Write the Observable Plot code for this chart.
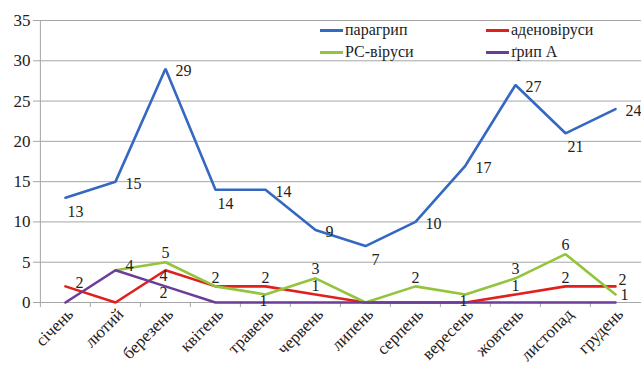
<!DOCTYPE html>
<html><head><meta charset="utf-8">
<script src="https://cdn.jsdelivr.net/npm/d3@7"></script>
<script src="https://cdn.jsdelivr.net/npm/@observablehq/plot@0.6"></script>
<style>
body{margin:0;background:#fff;}
#wrap{position:relative;width:641px;height:365px;font-family:"Liberation Serif","Times New Roman",Tinos,"Noto Serif","DejaVu Serif",serif;}
.leg{position:absolute;font-size:16px;color:#222;display:flex;align-items:center;white-space:nowrap;}
.leg span.sw{display:inline-block;width:23px;height:3px;margin-right:2px;}
svg text{font-family:"Liberation Serif","Times New Roman",Tinos,"Noto Serif","DejaVu Serif",serif;}
</style></head>
<body><div id="wrap"></div>
<script>
const months = ["січень","лютий","березень","квітень","травень","червень","липень","серпень","вересень","жовтень","листопад","грудень"];
const seriesNames = ["парагрип","аденовіруси","РС-віруси","ґрип А"];
const paraflu = [13,15,29,14,14,9,7,10,17,27,21,24];
const adeno   = [2,0,4,2,2,1,0,0,0,1,2,2];
const rsv     = [null,4,5,2,1,3,0,2,1,3,6,1];
const fluA    = [0,4,2,0,0,0,0,0,0,0,0,0];
const yTicks  = [0,5,10,15,20,25,30,35];
const colors  = ["#3568c0","#e0201c","#92c43c","#6b3d98"];

const values = [paraflu, adeno, rsv, fluA];
const rows = [];
values.forEach((arr, si) => arr.forEach((v, i) => {
  if (v !== null) rows.push({series: seriesNames[si], si, month: months[i], i, v,
    prev: i > 0 ? arr[i-1] : null, next: i < arr.length-1 ? arr[i+1] : null});
}));
const isMin = d => (d.prev === null || d.prev > d.v) && (d.next === null || d.next >= d.v);
const seen = new Set();
const labels = rows.filter(d => {
  if (d.v === 0) return false;
  if (d.si === 0) return true;
  const k = d.i + ":" + d.v;
  if (seen.has(k)) return false;
  seen.add(k); return true;
});
const small = labels.filter(d => d.si > 0);
const hasAbove = d => small.some(o => o.i === d.i && o.v === d.v + 1);
const placeSmall = d => {
  if (d.prev === null) return "start";
  if (d.next === null) return hasAbove(d) ? "endLow" : "end";
  if (d.prev > d.v && d.next > d.v) return "below";
  if (hasAbove(d)) return "below";
  if (d.prev - d.v >= 2 && d.next < d.v) return "below";
  return "above";
};
const paraRight = labels.filter(d => d.si === 0 && !isMin(d));
const paraBelow = labels.filter(d => d.si === 0 && isMin(d));
const sm = k => small.filter(d => placeSmall(d) === k);

const W = 641, H = 365, mL = 38, mR = 0;
const step = (W - mL - mR) / months.length;
const font = "Liberation Serif, Times New Roman, Tinos, Noto Serif, DejaVu Serif, serif";
const txt = {x: "month", y: "v", text: d => String(d.v), fontSize: 16, fill: "#222"};

const chart = Plot.plot({
  width: W, height: H,
  marginLeft: mL, marginRight: mR, marginTop: 20, marginBottom: 63,
  style: {fontFamily: font, fontSize: "16px", color: "#222", background: "#fff"},
  x: {type: "point", domain: months, padding: 0.5, label: null},
  y: {domain: [0, 35], label: null},
  marks: [
    Plot.gridY(yTicks, {stroke: "#a6a6a6", strokeOpacity: 1, strokeWidth: 1}),
    Plot.ruleX([months[0]], {dx: -step/2, stroke: "#a6a6a6"}),
    Plot.ruleX(months, {dx: -step/2, y1: 0, y2: -0.62, stroke: "#a6a6a6"}),
    Plot.axisY(yTicks, {tickSize: 5, tickPadding: 3, stroke: "#a6a6a6", fontSize: 17, fill: "#222"}),
    Plot.axisX(months, {tickSize: 0, tickRotate: -45, fontSize: 17, fill: "#222", tickPadding: 9, dx: 5}),
    Plot.line(rows, {x: "month", y: "v", z: "series", stroke: d => colors[d.si], strokeWidth: 2.6, strokeLinejoin: "miter"}),
    Plot.text(paraRight, {...txt, dx: 10, dy: 2, textAnchor: "start"}),
    Plot.text(paraBelow, {...txt, dx: 10, dy: 14, textAnchor: "middle"}),
    Plot.text(sm("above"), {...txt, dx: 0, dy: -9, textAnchor: "middle"}),
    Plot.text(sm("below"), {...txt, dx: -2, dy: 6, textAnchor: "middle"}),
    Plot.text(sm("start"), {...txt, dx: 14, dy: -4, textAnchor: "middle"}),
    Plot.text(sm("end"), {...txt, dx: 7, dy: -7, textAnchor: "middle"}),
    Plot.text(sm("endLow"), {...txt, dx: 9, dy: 0, textAnchor: "middle"})
  ]
});
const wrap = document.getElementById("wrap");
wrap.appendChild(chart);
const legPos = [[320,30],[486,30],[320,52],[486,52]];
seriesNames.forEach((n, k) => {
  const el = document.createElement("div");
  el.className = "leg";
  el.style.left = legPos[k][0] + "px";
  el.style.top = (legPos[k][1] - 10) + "px";
  el.style.height = "20px";
  el.innerHTML = `<span class="sw" style="background:${colors[k]}"></span>${n}`;
  wrap.appendChild(el);
});
</script></body></html>
